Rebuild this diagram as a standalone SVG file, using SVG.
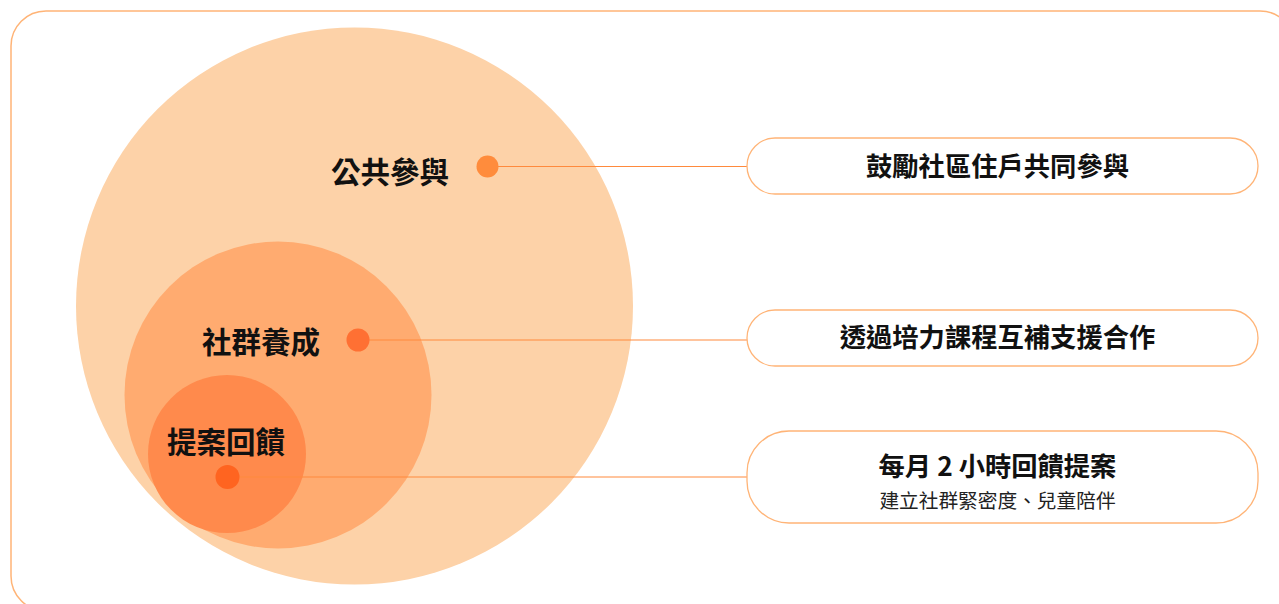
<svg xmlns="http://www.w3.org/2000/svg" width="1279" height="604" viewBox="0 0 1279 604">
<style>
.frame{fill:#fff;stroke:#FFB477;stroke-width:1.5}
.box{fill:#fff;stroke:#FFB477;stroke-width:1.3}
.conn{stroke:#FF8A3D;stroke-width:1.2;fill:none}
.lbl{font-family:"Noto Sans CJK TC","Noto Sans CJK SC",sans-serif;font-weight:700;font-size:29.5px;fill:#111}
.t{font-family:"Noto Sans CJK TC","Noto Sans CJK SC",sans-serif;font-weight:700;font-size:26.3px;fill:#111;text-anchor:middle}
.s{font-family:"Noto Sans CJK TC","Noto Sans CJK SC",sans-serif;font-weight:400;font-size:19.7px;fill:#222;text-anchor:middle}
</style>
<rect class="frame" x="11" y="11" width="1284" height="600" rx="35"/>
<g id="circles">
<circle cx="354.5" cy="306" r="278.5" fill="#FDD2A8"/>
<circle cx="278" cy="395" r="153.5" fill="#FFAB70"/>
<circle cx="227" cy="454" r="79" fill="#FF8A4C"/>
</g>
<g id="connectors">
<line class="conn" x1="487" y1="166.5" x2="747" y2="166.5"/>
<line class="conn" x1="358" y1="340" x2="747" y2="340"/>
<line class="conn" x1="227" y1="477" x2="747" y2="477" stroke="#FF6A2A"/>
</g>
<g id="node-public">
<text class="lbl" x="331" y="183">公共參與</text>
<circle cx="487.5" cy="166.5" r="11" fill="#FF8C3C"/>
</g>
<g id="node-community">
<text class="lbl" x="202" y="353">社群養成</text>
<circle cx="358" cy="340" r="11.5" fill="#FF7033"/>
</g>
<g id="node-feedback">
<text class="lbl" x="167" y="453">提案回饋</text>
<circle cx="227.5" cy="477" r="12" fill="#FF6420"/>
</g>
<g id="box1">
<rect class="box" x="747" y="138" width="511" height="56" rx="28"/>
<text class="t" x="997.5" y="176">鼓勵社區住戶共同參與</text>
</g>
<g id="box2">
<rect class="box" x="747" y="310" width="511" height="56" rx="28"/>
<text class="t" x="997.5" y="347">透過培力課程互補支援合作</text>
</g>
<g id="box3">
<rect class="box" x="747" y="431" width="511" height="92" rx="42"/>
<text class="t" x="997.5" y="476">每月 2 小時回饋提案</text>
<text class="s" x="997.5" y="508">建立社群緊密度、兒童陪伴</text>
</g>
</svg>
